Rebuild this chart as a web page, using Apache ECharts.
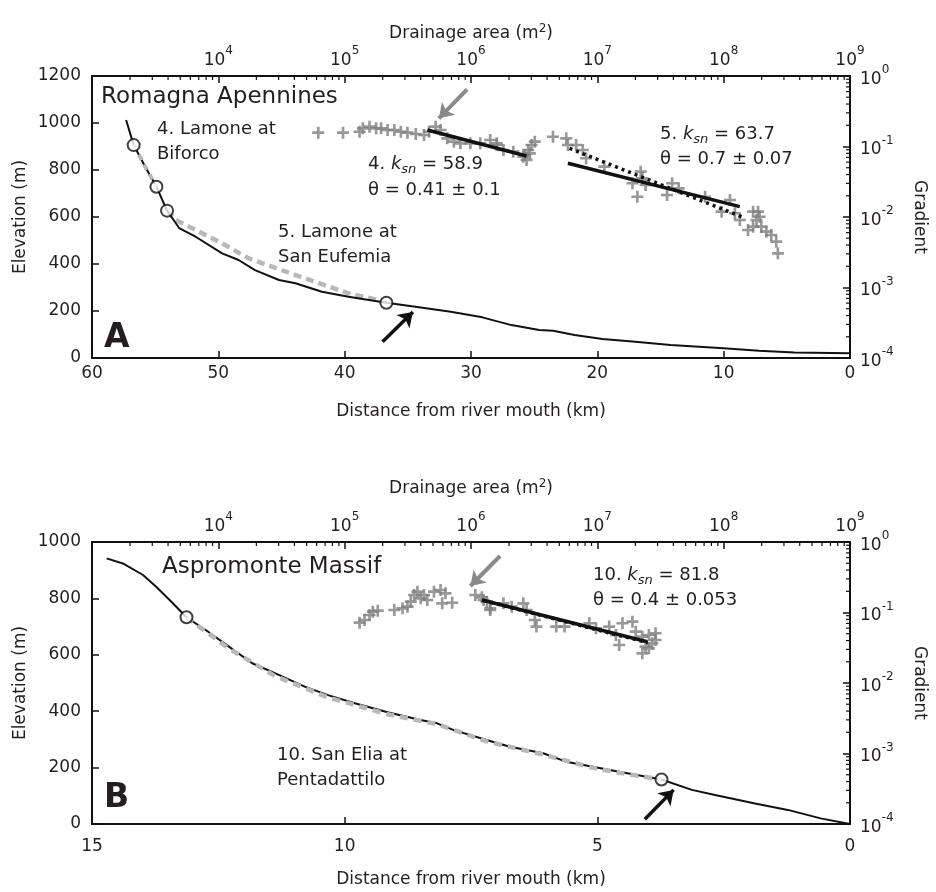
<!DOCTYPE html>
<html><head><meta charset="utf-8">
<script src="https://cdn.jsdelivr.net/npm/echarts@6/dist/echarts.min.js"></script>
<style>html,body{margin:0;padding:0;background:#fff}#c{width:936px;height:892px}</style>
</head><body><div id="c"></div>
<script>
// ---------- Panel A (Romagna Apennines) ----------
const profA_km   = [57.3, 56.7, 55.8, 54.9, 54.06, 53.1, 51.8, 49.7, 48.4, 47.1, 45.2, 43.9, 41.8, 39.7, 36.7, 34.4, 31.6, 29.1, 26.8, 24.6, 23.5, 21.8, 19.6, 17.0, 14.2, 10.0, 7.2, 4.4, 0];
const profA_elev = [1013, 906, 815, 729, 627, 553, 516, 445, 417, 374, 332, 318, 282, 261, 235, 218, 197, 173, 140, 119, 116, 98, 81, 69, 55, 41, 31, 23, 20];
const modelA1_km   = [56.7, 55.8, 54.9];
const modelA1_elev = [906, 815, 729];
const modelA2_km   = [54.06, 53.35, 51.8, 49.7, 47.6, 45.0, 42.4, 39.7, 37.9, 36.7];
const modelA2_elev = [627, 587, 545, 488, 424, 374, 325, 275, 254, 235];
const knickA_km   = [56.7, 54.9, 54.06, 36.7];
const knickA_elev = [906, 729, 627, 235];
const arrowA_km   = [37.0, 34.6];
const arrowA_elev = [69, 196];
// slope-area data (log10 of area in m^2, log10 of gradient)
const saA_logArea = [4.791,4.987,5.118,5.144,5.197,5.249,5.288,5.34,5.393,5.445,5.497,5.563,5.628,5.668,5.72,5.759,5.812,5.864,5.916,5.995,6.073,6.152,6.204,6.204,6.257,6.335,6.414,6.44,6.453,6.479,6.505,6.466,6.427,6.649,6.754,6.767,6.832,6.885,6.911,7.055,7.278,7.343,7.356,7.317,7.382,7.552,7.592,7.644,7.853,7.984,8.05,8.089,8.128,8.193,8.233,8.272,8.285,8.298,8.338,8.377,8.416,8.429,8.26,8.233];
const saA_logGrad = [-0.804,-0.804,-0.79,-0.742,-0.719,-0.742,-0.742,-0.766,-0.766,-0.79,-0.804,-0.823,-0.837,-0.79,-0.719,-0.766,-0.884,-0.931,-0.955,-0.955,-0.955,-0.908,-0.955,-0.979,-1.05,-1.073,-1.144,-1.19,-1.05,-0.979,-0.931,-1.097,-1.12,-0.861,-0.884,-0.979,-0.979,-1.05,-1.167,-1.286,-1.522,-1.357,-1.451,-1.712,-1.546,-1.688,-1.522,-1.593,-1.712,-1.924,-1.759,-1.947,-2.043,-2.184,-1.924,-1.924,-1.996,-2.137,-2.208,-2.255,-2.35,-2.515,-2.043,-2.137];
const fitA4_logArea = [5.655, 6.44];   const fitA4_logGrad = [-0.766, -1.135];
const fitA5_logArea = [6.767, 8.128];  const fitA5_logGrad = [-1.238, -1.853];
const fitA5d_logArea = [6.78, 8.141];  const fitA5d_logGrad = [-1.026, -1.995];
const garrowA_logArea = [5.969, 5.746]; const garrowA_logGrad = [-0.189, -0.6];

// ---------- Panel B (Aspromonte Massif) ----------
const profB_km   = [14.71, 14.39, 13.99, 13.73, 13.40, 13.13, 12.75, 12.29, 11.83, 11.37, 10.79, 10.33, 9.80, 9.15, 8.50, 8.17, 7.84, 7.19, 6.73, 6.07, 5.62, 5.09, 4.57, 3.73, 3.13, 2.67, 1.88, 1.23, 0.58, 0];
const profB_elev = [942, 924, 883, 841, 783, 733, 688, 629, 570, 534, 487, 457, 428, 396, 369, 357, 333, 298, 274, 251, 221, 203, 185, 158, 121, 103, 73, 50, 20, 0];
const modelB_km   = [13.13, 12.29, 11.37, 10.33, 9.15, 8.17, 7.19, 6.07, 5.09, 4.57, 3.73];
const modelB_elev = [733, 622, 524, 449, 389, 354, 293, 246, 199, 182, 158];
const knickB_km   = [13.13, 3.73];
const knickB_elev = [733, 158];
const arrowB_km   = [4.06, 3.49];
const arrowB_elev = [17, 121];
const saB_logArea = [5.118,5.157,5.197,5.223,5.262,5.393,5.458,5.497,5.523,5.55,5.576,5.602,5.628,5.654,5.707,5.759,5.798,5.772,5.851,6.034,6.086,6.126,6.152,6.1,6.152,6.257,6.322,6.414,6.44,6.505,6.518,6.675,6.741,6.937,6.99,7.094,7.147,7.173,7.199,7.278,7.304,7.356,7.408,7.435,7.461,7.356,7.382,7.408,7.461];
const saB_logGrad = [-1.144,-1.106,-1.035,-0.988,-0.974,-0.965,-0.941,-0.917,-0.846,-0.752,-0.704,-0.799,-0.752,-0.823,-0.704,-0.681,-0.728,-0.87,-0.861,-0.752,-0.785,-0.846,-0.965,-0.823,-0.941,-0.87,-0.917,-0.87,-0.965,-1.106,-1.2,-1.2,-1.2,-1.153,-1.224,-1.2,-1.319,-1.461,-1.153,-1.13,-1.272,-1.343,-1.319,-1.437,-1.39,-1.579,-1.485,-1.508,-1.295];
const fitB_logArea = [6.086, 7.395];  const fitB_logGrad = [-0.823, -1.414];
const fitBd_logArea = [6.10, 7.40];   const fitBd_logGrad = [-0.83, -1.43];
const garrowB_logArea = [6.23, 5.995]; const garrowB_logGrad = [-0.199, -0.624];

// ---------- axis ticks ----------
const areaDecades = [3, 4, 5, 6, 7, 8];
const gradDecades = [-4, -3, -2, -1];

const zip = (a, b) => a.map((v, i) => [v, b[i]]);
const zipLog = (a, b) => a.map((v, i) => [Math.pow(10, v), Math.pow(10, b[i])]);
const minorArea = []; areaDecades.forEach(n => { for (let k = 2; k <= 9; k++) minorArea.push(k * Math.pow(10, n)); });
const minorGrad = []; gradDecades.forEach(n => { for (let k = 2; k <= 9; k++) minorGrad.push(k * Math.pow(10, n)); });

const FONT = '"DejaVu Sans", "Liberation Sans", sans-serif';
const TXT = '#231f20';
const GRAY = '#7e7e7e';
const LGRAY = '#b8b8b8';
const plusPath = 'path://M3.9,0H6.1V3.9H10V6.1H6.1V10H3.9V6.1H0V3.9H3.9Z';
const FS = 17;

const supRich = {
  b: {fontSize: FS, fontFamily: FONT, color: TXT, lineHeight: 24, verticalAlign: 'bottom'},
  s: {fontSize: 12, fontFamily: FONT, color: TXT, lineHeight: 24, verticalAlign: 'top'}
};
const expFmt = v => {
  const e = Math.round(Math.log10(v));
  return e === 3 ? '' : '{b|10}{s|' + e + '}';
};

function axisBase() {
  return {
    axisLine: {show: true, onZero: false, lineStyle: {color: '#111', width: 2}},
    axisTick: {show: true, inside: true, length: 7, lineStyle: {color: '#111', width: 1.5}},
    splitLine: {show: false},
    nameMoveOverlap: false,
    axisLabel: {fontSize: FS, color: TXT, fontFamily: FONT, formatter: v => String(v)},
    nameTextStyle: {fontSize: FS, color: TXT, fontFamily: FONT}
  };
}

function distAxis(grid, max, interval, labelMargin, nameGap) {
  const a = axisBase();
  a.axisLabel.margin = labelMargin;
  return Object.assign(a, {
    type: 'value', gridIndex: grid, position: 'bottom', min: 0, max: max, interval: interval, inverse: true,
    name: 'Distance from river mouth (km)', nameLocation: 'middle', nameGap: nameGap
  });
}
function areaAxis(grid, nameGap) {
  const a = axisBase();
  return Object.assign(a, {
    type: 'log', logBase: 10, gridIndex: grid, position: 'top', min: 1e3, max: 1e9,
    name: 'Drainage area (m{s|2})', nameLocation: 'middle', nameGap: nameGap,
    nameTextStyle: {fontSize: FS, color: TXT, fontFamily: FONT, rich: {s: {fontSize: 12, verticalAlign: 'top', lineHeight: 22, fontFamily: FONT, color: TXT}}},
    axisLabel: {fontSize: FS, color: TXT, fontFamily: FONT, margin: 7, formatter: expFmt, rich: supRich}
  });
}
function elevAxis(grid, max) {
  const a = axisBase();
  a.axisLabel.margin = 11;
  return Object.assign(a, {
    type: 'value', gridIndex: grid, position: 'left', min: 0, max: max, interval: 200,
    name: 'Elevation (m)', nameLocation: 'middle', nameGap: 63
  });
}
function gradAxis(grid) {
  return Object.assign(axisBase(), {
    type: 'log', logBase: 10, gridIndex: grid, position: 'right', min: 1e-4, max: 1,
    name: 'Gradient', nameLocation: 'middle', nameGap: 61, nameRotate: -90,
    axisLabel: {fontSize: FS, color: TXT, fontFamily: FONT, margin: 10, formatter: expFmt, rich: supRich}
  });
}

function lineS(x, y, data, style, extra) {
  return Object.assign({type: 'line', xAxisIndex: x, yAxisIndex: y, data: data, showSymbol: false, symbol: 'none',
    lineStyle: style, silent: true, animation: false, z: 3}, extra || {});
}
function minorTopSeries(x, y) {
  return {type: 'custom', xAxisIndex: x, yAxisIndex: y, silent: true, animation: false, clip: false,
    data: minorArea.map(v => [v, 1]),
    renderItem: (params, api) => {
      const p = api.coord([api.value(0), api.value(1)]);
      return {type: 'line', shape: {x1: p[0], y1: p[1], x2: p[0], y2: p[1] + 4}, style: {stroke: '#111', lineWidth: 1.2}};
    }};
}
function minorRightSeries(x, y) {
  return {type: 'custom', xAxisIndex: x, yAxisIndex: y, silent: true, animation: false, clip: false,
    data: minorGrad.map(v => [1e9, v]),
    renderItem: (params, api) => {
      const p = api.coord([api.value(0), api.value(1)]);
      return {type: 'line', shape: {x1: p[0] - 4, y1: p[1], x2: p[0], y2: p[1]}, style: {stroke: '#111', lineWidth: 1.2}};
    }};
}
function arrowS(x, y, from, to, color, width) {
  return {type: 'lines', coordinateSystem: 'cartesian2d', xAxisIndex: x, yAxisIndex: y, silent: true, animation: false,
    symbol: ['none', 'arrow'], symbolSize: 14, z: 6,
    lineStyle: {color: color, width: width, opacity: 1},
    data: [{coords: [from, to]}]};
}
const circleStyle = {color: '#fff', borderColor: '#111', borderWidth: 2};

const series = [
  // Panel A
  lineS(0, 0, zip(profA_km, profA_elev), {color: '#111', width: 2}),
  lineS(0, 0, zip(modelA1_km, modelA1_elev), {color: LGRAY, width: 4, type: [6, 5]}, {z: 4}),
  lineS(0, 0, zip(modelA2_km, modelA2_elev), {color: LGRAY, width: 4.5, type: [8, 5]}, {z: 2}),
  {type: 'scatter', xAxisIndex: 0, yAxisIndex: 0, data: zip(knickA_km, knickA_elev), symbol: 'circle', symbolSize: 12,
    itemStyle: circleStyle, z: 7, silent: true, animation: false},
  arrowS(0, 0, [arrowA_km[0], arrowA_elev[0]], [arrowA_km[1], arrowA_elev[1]], '#111', 3.5),
  {type: 'scatter', xAxisIndex: 1, yAxisIndex: 1, data: zipLog(saA_logArea, saA_logGrad), symbol: plusPath, symbolSize: 12,
    itemStyle: {color: GRAY}, silent: true, animation: false, z: 3},
  lineS(1, 1, zipLog(fitA4_logArea, fitA4_logGrad), {color: '#111', width: 3.5}, {z: 5}),
  lineS(1, 1, zipLog(fitA5_logArea, fitA5_logGrad), {color: '#111', width: 3.5}, {z: 5}),
  lineS(1, 1, zipLog(fitA5d_logArea, fitA5d_logGrad), {color: '#111', width: 3.5, type: [3, 4]}, {z: 5}),
  arrowS(1, 1, [Math.pow(10, garrowA_logArea[0]), Math.pow(10, garrowA_logGrad[0])], [Math.pow(10, garrowA_logArea[1]), Math.pow(10, garrowA_logGrad[1])], '#8a8a8a', 4),
  minorTopSeries(1, 1), minorRightSeries(1, 1),
  // Panel B
  lineS(2, 2, zip(profB_km, profB_elev), {color: '#111', width: 2}),
  lineS(2, 2, zip(modelB_km, modelB_elev), {color: LGRAY, width: 4.5, type: [8, 6]}, {z: 4}),
  {type: 'scatter', xAxisIndex: 2, yAxisIndex: 2, data: zip(knickB_km, knickB_elev), symbol: 'circle', symbolSize: 12,
    itemStyle: circleStyle, z: 7, silent: true, animation: false},
  arrowS(2, 2, [arrowB_km[0], arrowB_elev[0]], [arrowB_km[1], arrowB_elev[1]], '#111', 3.5),
  {type: 'scatter', xAxisIndex: 3, yAxisIndex: 3, data: zipLog(saB_logArea, saB_logGrad), symbol: plusPath, symbolSize: 12,
    itemStyle: {color: GRAY}, silent: true, animation: false, z: 3},
  lineS(3, 3, zipLog(fitBd_logArea, fitBd_logGrad), {color: '#111', width: 3.5, type: [3, 4]}, {z: 4}),
  lineS(3, 3, zipLog(fitB_logArea, fitB_logGrad), {color: '#111', width: 3.5}, {z: 5}),
  arrowS(3, 3, [Math.pow(10, garrowB_logArea[0]), Math.pow(10, garrowB_logGrad[0])], [Math.pow(10, garrowB_logArea[1]), Math.pow(10, garrowB_logGrad[1])], '#8a8a8a', 4),
  minorTopSeries(3, 3), minorRightSeries(3, 3)
];

const AFS = 18;
const kRich = {
  n: {fontSize: AFS, fontFamily: FONT, color: TXT, lineHeight: 24, verticalAlign: 'middle'},
  i: {fontSize: AFS, fontFamily: FONT, color: TXT, fontStyle: 'italic', lineHeight: 24, verticalAlign: 'middle'},
  sub: {fontSize: 13, fontFamily: FONT, color: TXT, fontStyle: 'italic', lineHeight: 13, verticalAlign: 'bottom'}
};
function txt(x, y, text, size, weight) {
  return {type: 'text', x: x, y: y, silent: true, z: 100,
    style: {text: text, font: (weight || 'normal') + ' ' + size + 'px ' + FONT, fill: TXT, textVerticalAlign: 'middle', lineHeight: 25}};
}
function ktxt(x, y, text) {
  return {type: 'text', x: x, y: y, silent: true, z: 100,
    style: {text: text, fill: TXT, font: AFS + 'px ' + FONT, textVerticalAlign: 'middle', rich: kRich}};
}

const option = {
  backgroundColor: '#fff',
  animation: false,
  grid: [
    {left: 92, right: 80, top: 76, height: 282, containLabel: false},
    {left: 92, right: 80, top: 542, height: 282, containLabel: false}
  ],
  xAxis: [distAxis(0, 60, 10, 7, 45), areaAxis(0, 31), distAxis(1, 15, 5, 14, 47), areaAxis(1, 42)],
  yAxis: [elevAxis(0, 1200), gradAxis(0), elevAxis(1, 1000), gradAxis(1)],
  series: series,
  graphic: [
    txt(101, 97, 'Romagna Apennines', 23),
    txt(157, 142, '4. Lamone at\nBiforco', AFS),
    txt(278, 245, '5. Lamone at\nSan Eufemia', AFS),
    ktxt(368, 164, '{n|4. }{i|k}{sub|sn}{n| = 58.9}'),
    txt(368, 190, 'θ = 0.41 ± 0.1', AFS),
    ktxt(660, 134, '{n|5. }{i|k}{sub|sn}{n| = 63.7}'),
    txt(660, 159, 'θ = 0.7 ± 0.07', AFS),
    txt(104, 338, 'A', 33, 'bold'),
    txt(162, 567, 'Aspromonte Massif', 23),
    txt(277, 768, '10. San Elia at\nPentadattilo', AFS),
    ktxt(593, 575, '{n|10. }{i|k}{sub|sn}{n| = 81.8}'),
    txt(593, 600, 'θ = 0.4 ± 0.053', AFS),
    txt(104, 798, 'B', 33, 'bold')
  ]
};
const chart = echarts.init(document.getElementById('c'), null, {renderer: 'canvas'});
chart.setOption(option);
</script>
</body></html>
